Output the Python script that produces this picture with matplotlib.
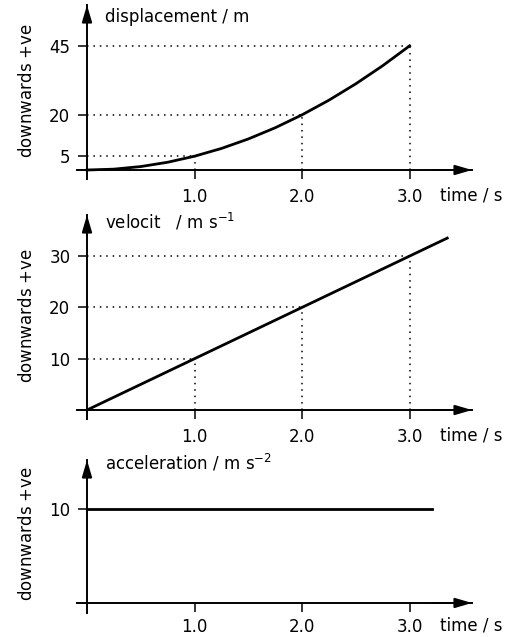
import matplotlib
matplotlib.use("Agg")
import matplotlib.pyplot as plt

# donnees
temps_ticks = [1.0, 2.0, 3.0]
temps_labels = ["1.0", "2.0", "3.0"]

depl_t = [0, 0.25, 0.5, 0.75, 1.0, 1.25, 1.5, 1.75, 2.0, 2.25, 2.5, 2.75, 3.0]
depl_s = [0, 0.31, 1.25, 2.81, 5, 7.81, 11.25, 15.31, 20, 25.31, 31.25, 37.81, 45]
depl_ticks = [5, 20, 45]

vit_t = [0, 1.0, 2.0, 3.0, 3.35]
vit_v = [0, 10, 20, 30, 33.5]
vit_ticks = [10, 20, 30]

acc_t = [0, 3.21]
acc_a = [10, 10]
acc_ticks = [10]

W, H = 510, 637
plt.rcParams['font.family'] = ['DejaVu Sans']
plt.rcParams['font.size'] = 12
plt.rcParams['mathtext.fontset'] = 'dejavusans'

fig = plt.figure(figsize=(W / 100, H / 100), dpi=100)


def boite(top, bottom):
    # axes en pixels -> fraction de figure
    return [77 / W, 1 - bottom / H, (472 - 77) / W, (bottom - top) / H]


def axe(rect, ylim, yticks, pad_x=6.5):
    ax = fig.add_axes(rect)
    ax.set_xlim(-0.093, 3.58)
    ax.set_ylim(*ylim)
    for s in ['top', 'right']:
        ax.spines[s].set_visible(False)
    ax.spines['left'].set_position(('data', 0))
    ax.spines['bottom'].set_position(('data', 0))
    ax.spines['left'].set_linewidth(1.4)
    ax.spines['bottom'].set_linewidth(1.4)
    ax.set_xticks(temps_ticks)
    ax.set_xticklabels(temps_labels)
    ax.set_yticks(yticks)
    ax.tick_params(axis='both', direction='out', length=6.5, width=1.1,
                   labelsize=12, colors='black')
    ax.tick_params(axis='x', pad=pad_x)
    ax.tick_params(axis='y', pad=5.5)
    ax.patch.set_alpha(0)
    fleche = dict(arrowstyle='-|>,head_length=0.85,head_width=0.25',
                  color='black', lw=1.4, shrinkA=0, shrinkB=0)
    ax.annotate('', xy=(1, 0), xycoords=ax.get_yaxis_transform(),
                xytext=(0.9, 0), textcoords=ax.get_yaxis_transform(),
                arrowprops=fleche)
    ax.annotate('', xy=(0, 1), xycoords=ax.get_xaxis_transform(),
                xytext=(0, 0.9), textcoords=ax.get_xaxis_transform(),
                arrowprops=fleche)
    ax.annotate('time / s', xy=(3.58, 0), xycoords='data',
                xytext=(-23, -12 - pad_x), textcoords='offset points',
                ha='left', va='center', fontsize=12)
    return ax


pointille = dict(color='black', lw=1.1, linestyle=(0, (1, 3.2)))

# déplacement
ax1 = axe(boite(5, 179), (-3.26, 59.8), depl_ticks)
ax1.plot(depl_t, depl_s, color='black', lw=2.0)
for t, s in zip(temps_ticks, [5, 20, 45]):
    ax1.plot([0, t], [s, s], **pointille)
    ax1.plot([t, t], [0, s], **pointille)

# vitesse
ax2 = axe(boite(215, 419), (-1.75, 38.0), vit_ticks)
ax2.plot(vit_t, vit_v, color='black', lw=2.0)
for t, v in zip(temps_ticks, [10, 20, 30]):
    ax2.plot([0, t], [v, v], **pointille)
    ax2.plot([t, t], [0, v], **pointille)

# accélération
ax3 = axe(boite(460, 613), (-1.07, 15.26), acc_ticks, pad_x=4.5)
ax3.plot(acc_t, acc_a, color='black', lw=2.0)

# textes
fig.text(105 / W, 1 - 17 / H, 'displacement / m', ha='left', va='center')
fig.text(105 / W, 1 - 222 / H, 'velocit   / m s$^{-1}$', ha='left', va='center')
fig.text(105 / W, 1 - 463 / H, 'acceleration / m s$^{-2}$', ha='left', va='center')
for yc in [90, 315, 533]:
    fig.text(27 / W, 1 - yc / H, 'downwards $+$ve', rotation=90,
             ha='center', va='center')

fig.savefig('out.png', dpi=100)
